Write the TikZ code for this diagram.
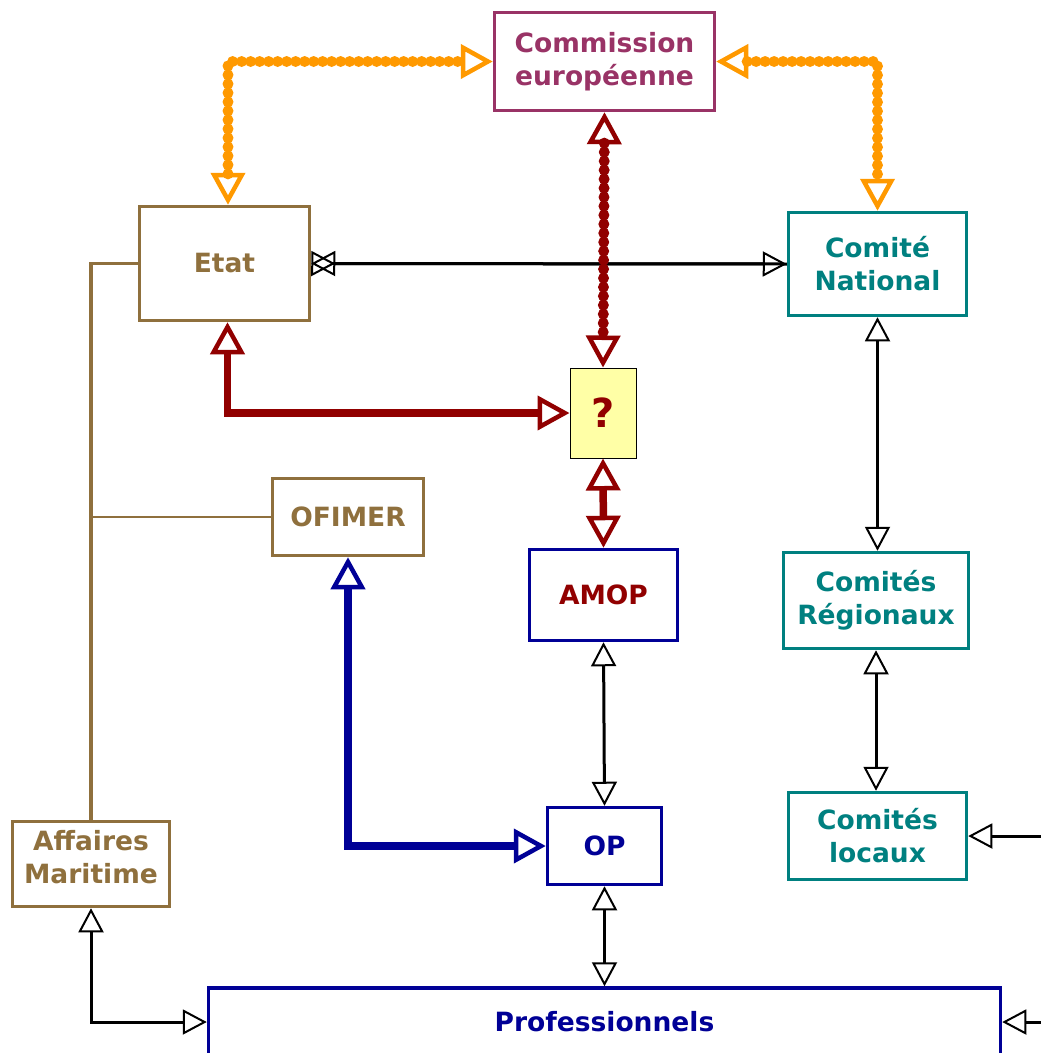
\documentclass[tikz,border=0pt]{standalone}
\usepackage{fontspec}
\setmainfont{DejaVu Sans}
\usetikzlibrary{arrows.meta}
\definecolor{brun}{RGB}{143,112,61}
\definecolor{violetce}{RGB}{153,51,102}
\definecolor{sarcelle}{RGB}{0,128,128}
\definecolor{marine}{RGB}{0,0,150}
\definecolor{bordeaux}{RGB}{145,0,0}
\definecolor{orangef}{RGB}{255,153,0}
\definecolor{jaunep}{RGB}{255,255,166}

\begin{document}
\begin{tikzpicture}[x=1pt,y=-1pt,font=\bfseries\fontsize{26.5}{33}\selectfont,
  pn/.tip={Triangle[open,length=24pt,width=25pt,line width=2pt]},
  pg/.tip={Triangle[open,length=32pt,width=34pt,line width=4.5pt]},
  box/.style={draw,line width=3.5pt,align=center,fill=white,inner sep=0pt},
  lien/.style={brun,line width=3.5pt},
  fleche/.style={pn-pn,line width=3pt},
  epais/.style={pg-pg,line width=7.5pt},
  pointille/.style={pg-pg,line width=11pt,line cap=round,dash pattern=on 0pt off 9pt}]
\useasboundingbox (0,0) rectangle (1041,1053);

% boites
\node[box,draw=violetce,text=violetce,minimum width=220,minimum height=98] (ce) at (604.5,61.5) {Commission\\européenne};
\node[box,draw=brun,text=brun,minimum width=170,minimum height=114] (etat) at (224.5,263.5) {Etat};
\node[box,draw=sarcelle,text=sarcelle,minimum width=178,minimum height=103] (cn) at (877.5,264) {Comité\\National};
\node[draw,line width=1pt,fill=jaunep,text=bordeaux,font=\bfseries\fontsize{40}{40}\selectfont,minimum width=66,minimum height=90,inner sep=0pt] (q) at (603,413) {?};
\node[box,draw=brun,text=brun,minimum width=151,minimum height=77] (ofimer) at (348,517) {OFIMER};
\node[box,draw=marine,text=bordeaux,minimum width=148,minimum height=91] (amop) at (603.5,595) {AMOP};
\node[box,draw=sarcelle,text=sarcelle,minimum width=185,minimum height=96] (cr) at (876,600.5) {Comités\\Régionaux};
\node[box,draw=sarcelle,text=sarcelle,minimum width=178,minimum height=87] (cl) at (877.5,836) {Comités\\locaux};
\node[box,draw=marine,text=marine,minimum width=114,minimum height=77] (op) at (604.5,846) {OP};
\node[box,draw=brun,text=brun,minimum width=157,minimum height=85,text depth=14pt] (am) at (91,864) {Affaires\\Maritime};
\node[box,draw=marine,text=marine,minimum width=792,minimum height=68] (prof) at (604.5,1022) {Professionnels};
\coordinate (bordcl) at (1046,836);
\coordinate (bordprof) at (1046,1022);

% liens de tutelle
\draw[lien] (etat.west) -| (am.north);
\draw[lien,line width=2pt] (ofimer.west) -- (ofimer.west -| am.north);

% fleches noires
\draw[fleche] (etat.east) -- (cn.west);
\draw[fleche,{pn[reversed]}-] (etat.east) -- (cn.west);
\foreach \s/\t in {amop/op,op/prof}\draw[fleche] (\s.south) -- (\t.north);
\foreach \s/\t in {cn/cr,cr/cl}\draw[fleche] (\s.south) -- (\s.south |- \t.north);
\draw[fleche] (am.south) |- (prof.west);
\draw[fleche,-pn] (bordcl) -- (cl.east);
\draw[fleche,-pn] (bordprof) -- (prof.east);

% fleches epaisses
\draw[epais,bordeaux] ([xshift=3]etat.south) |- (q.west);
\draw[epais,bordeaux] (q.south) -- (amop.north);
\draw[epais,marine] (ofimer.south) |- (op.west);

% pointilles
\draw[pointille,orangef] ([xshift=3.5]etat.north) |- (ce.west);
\draw[pointille,orangef] (ce.east) -| (cn.north);
\draw[pointille,bordeaux] (ce.south) -- (q.north);
\end{tikzpicture}
\end{document}
